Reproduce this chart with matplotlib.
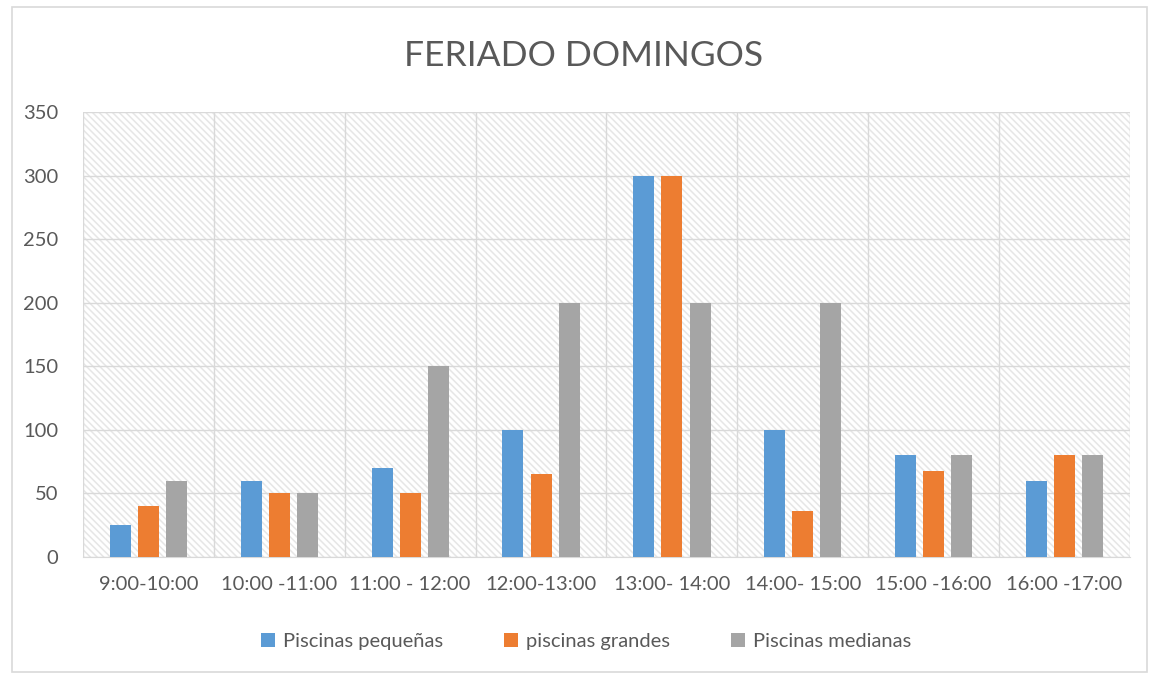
import matplotlib
matplotlib.use("Agg")
import matplotlib.pyplot as plt
import numpy as np
from matplotlib.patches import Rectangle

categories = ["9:00-10:00", "10:00 -11:00", "11:00 - 12:00", "12:00-13:00",
              "13:00- 14:00", "14:00- 15:00", "15:00 -16:00", "16:00 -17:00"]
pequenas = [25, 60, 70, 100, 300, 100, 80, 60]
grandes = [40, 50, 50, 65, 300, 36, 68, 80]
medianas = [60, 50, 150, 200, 200, 200, 80, 80]
series_names = ["Piscinas pequeñas", "piscinas grandes", "Piscinas medianas"]
colors = ["#5B9BD5", "#ED7D31", "#A5A5A5"]

plt.rcParams['font.family'] = ['Lato', 'DejaVu Sans']
plt.rcParams['hatch.linewidth'] = 1.1

fig = plt.figure(figsize=(11.56, 6.77), dpi=100)
ax = fig.add_axes([0.0718, 0.1773, 0.9057, 0.6573])

# figure border
fig.patches.append(Rectangle((0.010, 0.008), 0.982, 0.982, transform=fig.transFigure,
                             fill=False, edgecolor='#D9D9D9', lw=1.2))

ax.set_facecolor('white')
ax.add_patch(Rectangle((0, 0), 1, 1, transform=ax.transAxes, facecolor='white',
                       edgecolor='#E6E6E6', linewidth=0, hatch='\\' * 5, zorder=0))

x = np.arange(len(categories))
w = 0.16
off = 0.215
for i, (vals, name, c) in enumerate(zip([pequenas, grandes, medianas], series_names, colors)):
    ax.bar(x + (i - 1) * off, vals, width=w, color=c, label=name, zorder=3)

ax.set_xlim(-0.5, len(categories) - 0.5)
ax.set_ylim(0, 350)
ax.set_yticks(np.arange(0, 351, 50))
ax.set_xticks(x)
ax.set_xticklabels(categories)
ax.set_xticks(np.arange(-0.5, len(categories), 1), minor=True)
ax.grid(axis='y', which='major', color='#D9D9D9', lw=1, zorder=1)
ax.grid(axis='x', which='minor', color='#D9D9D9', lw=1, zorder=1)
ax.tick_params(axis='both', which='both', length=0, labelsize=14.5, colors='#595959')
ax.tick_params(axis='x', pad=14)
ax.tick_params(axis='y', pad=18)
for s in ['top', 'right', 'left']:
    ax.spines[s].set_visible(False)
ax.spines['bottom'].set_color('#D9D9D9')

fig.text(0.505, 0.918, "FERIADO DOMINGOS", ha='center', va='center', fontsize=25.5, color='#595959')

leg = fig.legend(loc='center', bbox_to_anchor=(0.507, 0.052), ncol=3, frameon=False,
                 fontsize=14.5, handlelength=0.7, handleheight=0.7, columnspacing=3.0,
                 handletextpad=0.4)
for t in leg.get_texts():
    t.set_color('#595959')

fig.savefig("out.png", dpi=100)
